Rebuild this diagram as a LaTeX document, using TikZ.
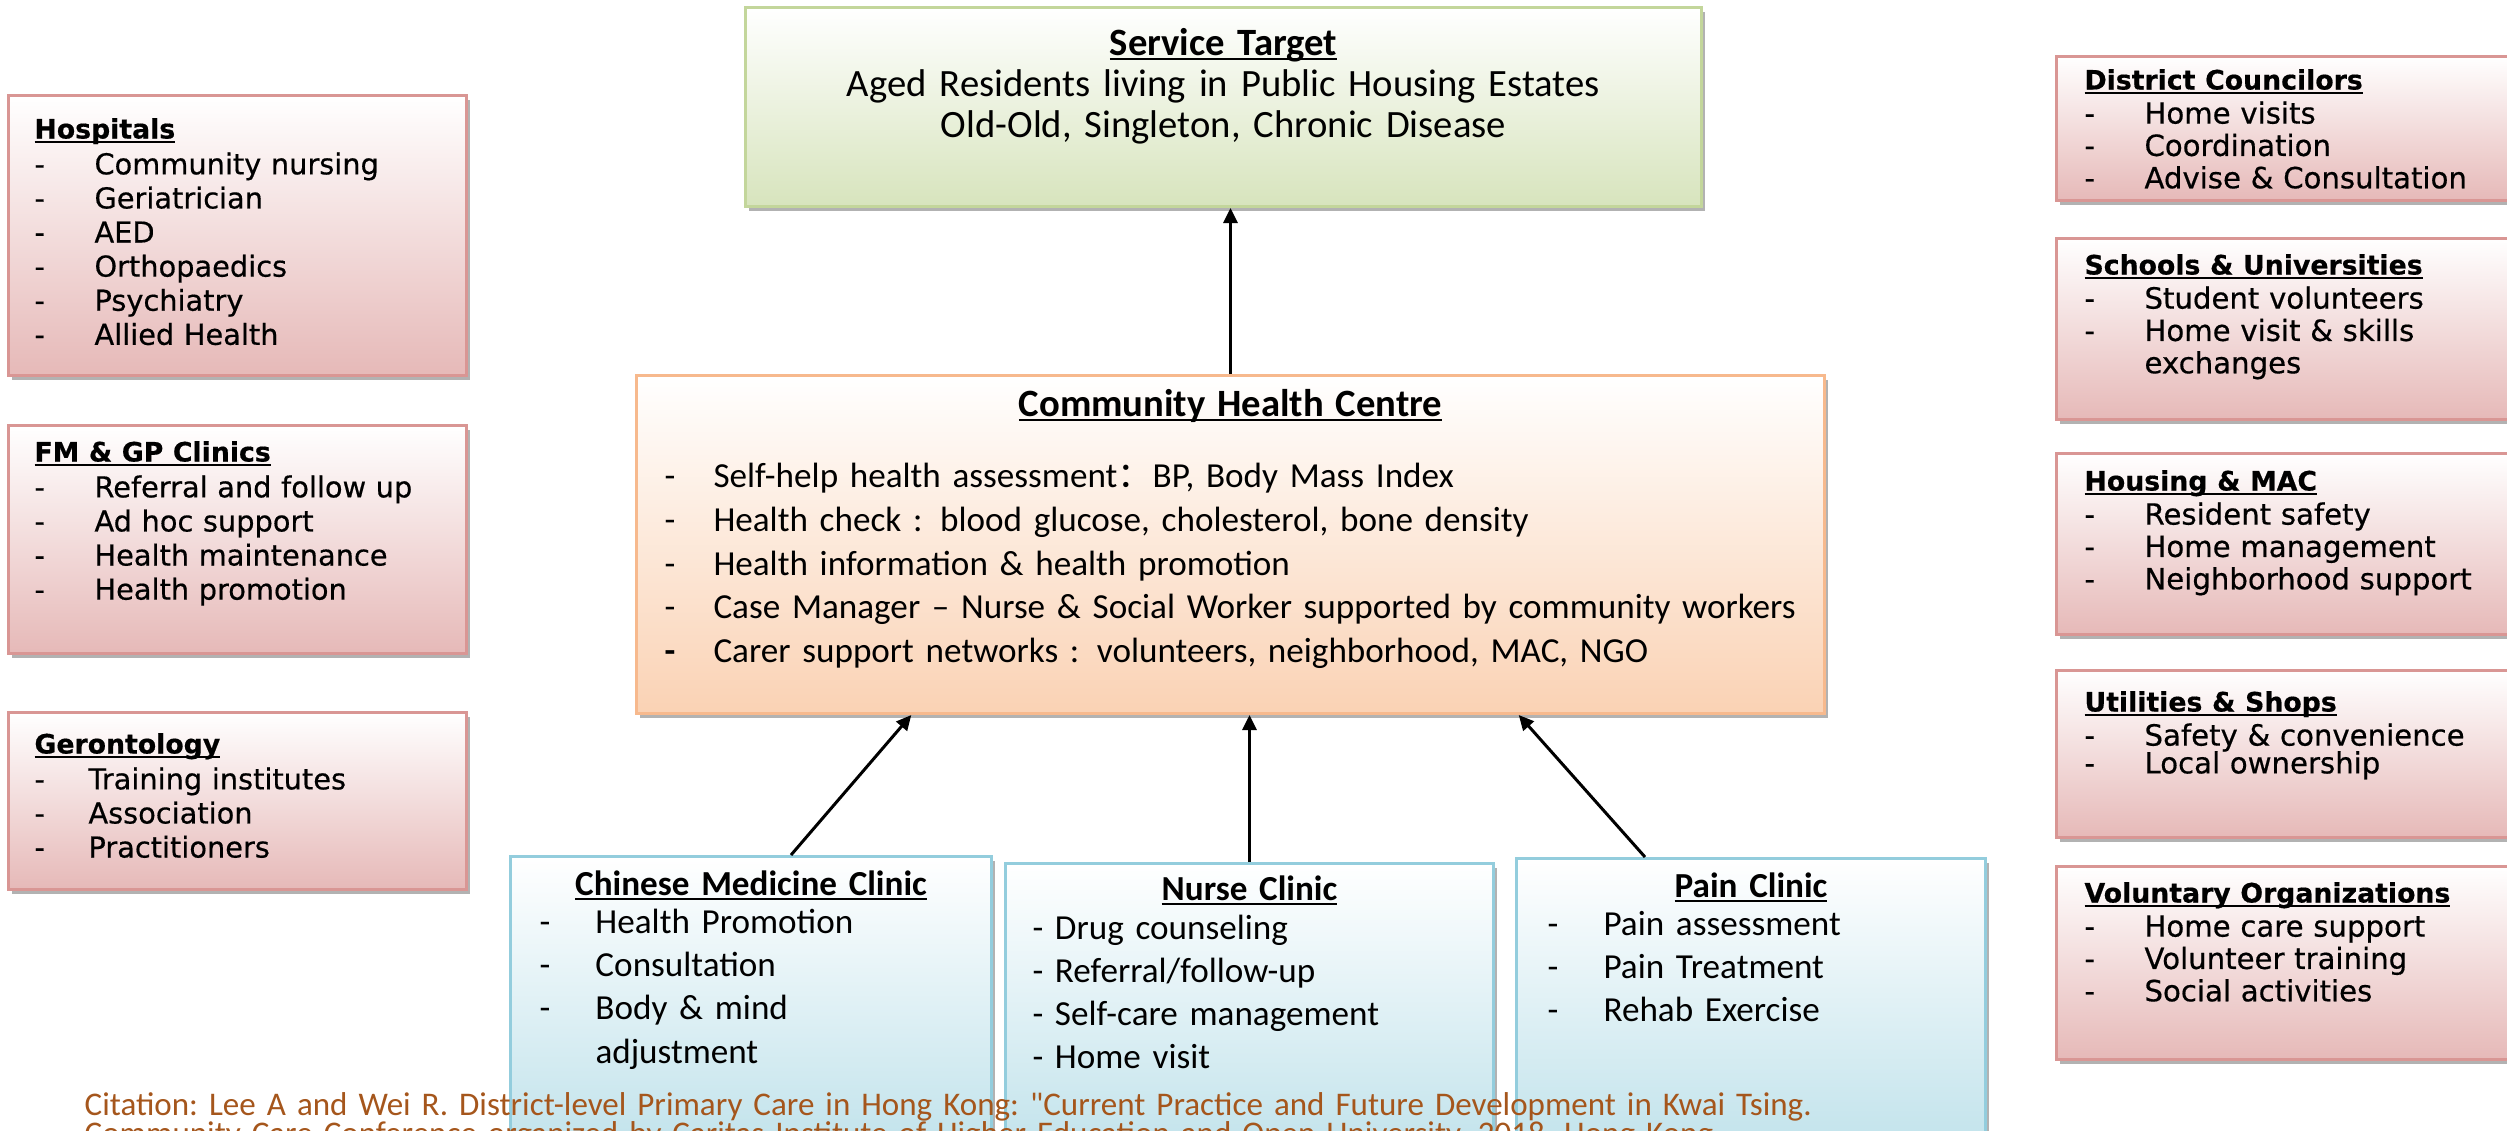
\documentclass[tikz,border=0pt]{standalone}
\usepackage{fontspec}
\setmainfont{Carlito}
\newfontfamily\sidefont[FakeBold=0.5]{DejaVu Sans}
\newfontfamily\cjkfont{Noto Sans CJK SC}
\usetikzlibrary{arrows.meta, positioning, calc, shadows}

\definecolor{RoseEdge}{HTML}{D99694}
\definecolor{RoseFill}{HTML}{E6B9B8}
\definecolor{LimeEdge}{HTML}{C3D69B}
\definecolor{LimeFill}{HTML}{D7E4BD}
\definecolor{PeachEdge}{HTML}{F7B98D}
\definecolor{PeachFill}{HTML}{FAD2B4}
\definecolor{AquaEdge}{HTML}{93CDDD}
\definecolor{AquaFill}{HTML}{B7DEE8}
\definecolor{CiteBrown}{HTML}{A5561C}

% headings (underline just under the baseline) and dash lists
\newsavebox{\headbox}
\newcommand{\uline}[1]{\sbox{\headbox}{#1}\rlap{\rule[-1.3pt]{\wd\headbox}{0.55pt}}\usebox{\headbox}}
\newcommand{\boxhead}[1]{\uline{\textbf{#1}}}
\newcommand{\sidehead}[1]{{\fontsize{7.6pt}{9.7pt}\selectfont\bfseries\uline{#1}}}
\newcommand{\dashitem}[2][6mm]{\makebox[#1][l]{-}#2}

\begin{document}
\begin{tikzpicture}[
    x=0.1mm, y=-0.1mm,
    shade/.style={drop shadow={shadow xshift=0.3mm, shadow yshift=-0.4mm,
        fill=black, opacity=0.3}},
    sidebox/.style={
        draw=RoseEdge, line width=0.3mm, top color=white, bottom color=RoseFill,
        shade, anchor=north west, inner xsep=2.6mm, inner ysep=0pt,
        text width=40.6mm, align=left,
        font=\sidefont\fontsize{8.2pt}{9.7pt}\selectfont
    },
    rightbox/.style={
        sidebox, inner xsep=2.8mm, text width=43.4mm,
        font=\sidefont\fontsize{8.3pt}{9.2pt}\selectfont
    },
    targetbox/.style={
        draw=LimeEdge, line width=0.3mm, top color=white, bottom color=LimeFill,
        shade, anchor=north west, inner xsep=0pt, inner ysep=0pt,
        text width=95.6mm, align=center,
        font=\fontsize{11pt}{11.6pt}\selectfont
    },
    centrebox/.style={
        draw=PeachEdge, line width=0.3mm, top color=white, bottom color=PeachFill,
        shade, anchor=north west, inner xsep=2.8mm, inner ysep=0pt,
        text width=113.2mm, align=left,
        font=\fontsize{10pt}{12.5pt}\selectfont
    },
    clinic/.style={
        draw=AquaEdge, line width=0.3mm, top color=white, bottom color=AquaFill,
        shade, anchor=north west, inner ysep=0pt, align=left,
        text depth=30mm, font=\fontsize{10pt}{12.3pt}\selectfont
    },
    arr/.style={-{Triangle[length=1.5mm, width=1.4mm]}, line width=0.3mm},
    citation/.style={anchor=base west, inner sep=0pt, align=left, text=CiteBrown,
        text width=240mm, font=\fontsize{9.4pt}{11.8pt}\selectfont\frenchspacing}
]
\useasboundingbox (0,0) rectangle (2507,1130);
\clip (0,0) rectangle (2507,1130);

% =============================================
% Left column: partners
% =============================================
\node[sidebox, text height=4.3mm, text depth=23.7mm] (hosp) at (7,94) {%
    \sidehead{Hospitals}\\[0.5pt]
    \dashitem{Community nursing}\\
    \dashitem{Geriatrician}\\
    \dashitem{AED}\\
    \dashitem{Orthopaedics}\\
    \dashitem{Psychiatry}\\
    \dashitem{Allied Health}};

\node[sidebox, text height=3.6mm, text depth=19.2mm] (gp) at (7,424) {%
    \sidehead{FM \& GP Clinics}\\[0.5pt]
    \dashitem{Referral and follow up}\\
    \dashitem{Ad hoc support}\\
    \dashitem{Health maintenance}\\
    \dashitem{Health promotion}};

\node[sidebox, text height=4.1mm, text depth=13.6mm] (geront) at (7,711) {%
    \sidehead{Gerontology}\\[0.5pt]
    \dashitem[5.4mm]{Training institutes}\\
    \dashitem[5.4mm]{Association}\\
    \dashitem[5.4mm]{Practitioners}};

% =============================================
% Right column: partners
% =============================================
\node[rightbox, text height=3.3mm, text depth=11.1mm] (council) at (2055,55) {%
    \sidehead{District Councilors}\\[0.5pt]
    \dashitem{Home visits}\\
    \dashitem{Coordination}\\
    \dashitem{Advise \& Consultation}};

\node[rightbox, text height=3.6mm, text depth=14.5mm] (school) at (2055,237) {%
    \sidehead{Schools \& Universities}\\[0.5pt]
    \dashitem{Student volunteers}\\
    \dashitem{Home visit \& skills}\\
    \hspace*{6mm}exchanges};

\node[rightbox, text height=3.7mm, text depth=14.4mm] (housing) at (2055,452) {%
    \sidehead{Housing \& MAC}\\[0.5pt]
    \dashitem{Resident safety}\\
    \dashitem{Home management}\\
    \dashitem{Neighborhood support}};

\node[rightbox, text height=4.1mm, text depth=12.6mm] (shops) at (2055,669) {%
    \sidehead{Utilities \& Shops}\\[0.5pt]
    \dashitem{Safety \& convenience}\\[-1.3pt]
    \dashitem{Local ownership}};

\node[rightbox, text height=3.6mm, text depth=15.7mm] (volunt) at (2055,865) {%
    \sidehead{Voluntary Organizations}\\[0.5pt]
    \dashitem{Home care support}\\
    \dashitem{Volunteer training}\\
    \dashitem{Social activities}};

% =============================================
% Service target and health centre
% =============================================
\node[targetbox, text height=4.8mm, text depth=15.1mm] (target) at (744,6) {%
    \boxhead{Service Target}\\
    Aged Residents living in Public Housing Estates\\
    Old-Old, Singleton, Chronic Disease};

\node[centrebox, text height=4.1mm, text depth=29.7mm] (chc) at (635,374) {%
    \makebox[113.2mm]{\fontsize{11pt}{12.5pt}\selectfont\boxhead{Community Health Centre}}\\[7.6pt]
    \dashitem[4.9mm]{Self-help health assessment{\cjkfont ：}BP, Body Mass Index}\\
    \dashitem[4.9mm]{Health check : blood glucose, cholesterol, bone density}\\
    \dashitem[4.9mm]{Health information \& health promotion}\\
    \dashitem[4.9mm]{Case Manager -- Nurse \& Social Worker supported by community workers}\\
    \makebox[4.9mm][l]{\textbf{-}}Carer support networks : volunteers, neighborhood, MAC, NGO};

\draw[arr] (chc.north) -- (chc.north |- target.south);

% =============================================
% Clinics feeding the centre
% =============================================
\node[clinic, inner xsep=2.9mm, text width=42.3mm, text height=3.9mm] (cmc) at (509,855) {%
    \makebox[42.3mm]{\boxhead{Chinese Medicine Clinic}}\\[-1.5pt]
    \dashitem[5.6mm]{Health Promotion}\\
    \dashitem[5.6mm]{Consultation}\\
    \dashitem[5.6mm]{Body \& mind}\\
    \hspace*{5.6mm}adjustment};

\node[clinic, inner xsep=2.7mm, text width=43.4mm, text height=3.7mm] (nurse) at (1004,862) {%
    \makebox[43.4mm]{\boxhead{Nurse Clinic}}\\[-1.3pt]
    - Drug counseling\\
    - Referral/follow-up\\
    - Self-care management\\
    - Home visit};

\node[clinic, inner xsep=3.1mm, text width=40.7mm, text height=3.9mm] (pain) at (1515,857) {%
    \makebox[40.7mm]{\boxhead{Pain Clinic}}\\[-1.5pt]
    \dashitem[5.6mm]{Pain assessment}\\
    \dashitem[5.6mm]{Pain Treatment}\\
    \dashitem[5.6mm]{Rehab Exercise}};

\draw[arr] ([xshift=4mm]cmc.north) -- ($(chc.south west)!0.232!(chc.south east)$);
\draw[arr] (nurse.north) -- (nurse.north |- chc.south);
\draw[arr] ([xshift=-10.6mm]pain.north) -- ($(chc.south west)!0.742!(chc.south east)$);

% =============================================
% Citation (runs over the clinic boxes)
% =============================================
\node[citation] (source) at (84,1115) {%
    Citation: Lee A and Wei R. District-level Primary Care in Hong Kong: \textquotedbl Current Practice and Future Development in Kwai Tsing.\\[-3.3pt]
    Community Care Conference organized by Caritas Institute of Higher Education and Open University, 2018, Hong Kong};

\end{tikzpicture}
\end{document}
